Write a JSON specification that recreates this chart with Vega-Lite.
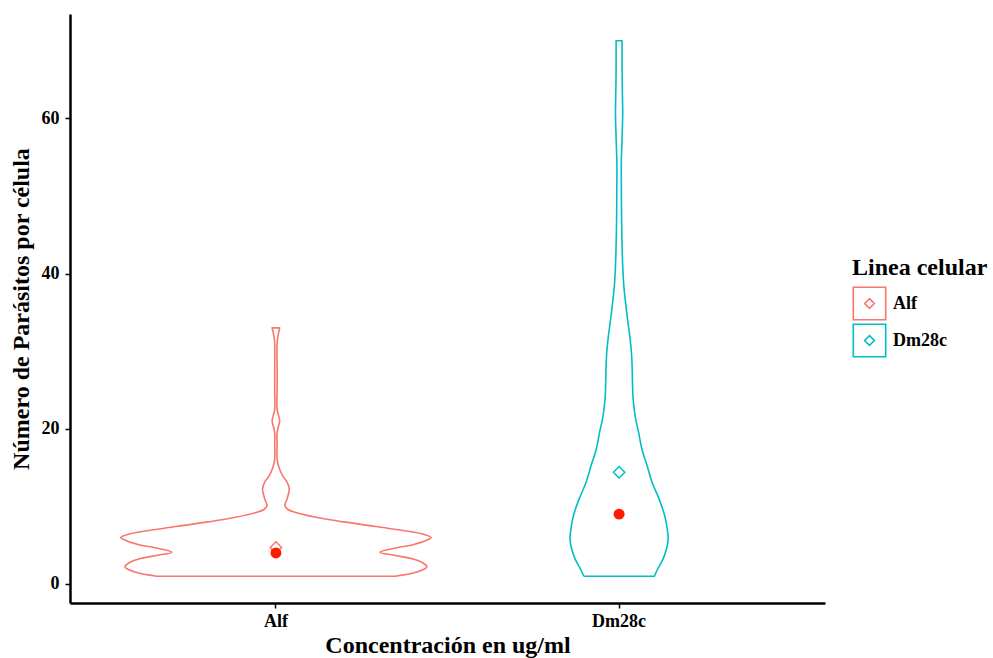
{
  "$schema": "https://vega.github.io/schema/vega-lite/v6.json",
  "autosize": "none",
  "width": 755,
  "height": 589,
  "padding": {"left": 70, "top": 14, "right": 168, "bottom": 55},
  "background": "white",
  "datasets": {
    "violin": [
      {"g":"Alf","o":1,"y":1,"w":-0.347},{"g":"Alf","o":2,"y":1.5,"w":-0.408},{"g":"Alf","o":3,"y":2.2,"w":-0.44},{"g":"Alf","o":4,"y":2.8,"w":-0.425},{"g":"Alf","o":5,"y":3.2,"w":-0.402},{"g":"Alf","o":6,"y":3.7,"w":-0.344},{"g":"Alf","o":7,"y":4.1,"w":-0.303},{"g":"Alf","o":8,"y":4.6,"w":-0.344},{"g":"Alf","o":9,"y":5.1,"w":-0.402},{"g":"Alf","o":10,"y":5.6,"w":-0.437},{"g":"Alf","o":11,"y":6.0,"w":-0.452},{"g":"Alf","o":12,"y":6.4,"w":-0.431},{"g":"Alf","o":13,"y":6.8,"w":-0.385},{"g":"Alf","o":14,"y":7.4,"w":-0.291},{"g":"Alf","o":15,"y":8.0,"w":-0.198},{"g":"Alf","o":16,"y":8.6,"w":-0.117},{"g":"Alf","o":17,"y":9.25,"w":-0.055},{"g":"Alf","o":18,"y":9.6,"w":-0.035},{"g":"Alf","o":19,"y":10.1,"w":-0.026},{"g":"Alf","o":20,"y":10.9,"w":-0.032},{"g":"Alf","o":21,"y":12.2,"w":-0.039},{"g":"Alf","o":22,"y":13.2,"w":-0.032},{"g":"Alf","o":23,"y":13.9,"w":-0.02},{"g":"Alf","o":24,"y":15,"w":-0.009},{"g":"Alf","o":25,"y":16.1,"w":-0.0035},{"g":"Alf","o":26,"y":18,"w":-0.0035},{"g":"Alf","o":27,"y":19.5,"w":-0.0035},{"g":"Alf","o":28,"y":20.3,"w":-0.0073},{"g":"Alf","o":29,"y":21,"w":-0.011},{"g":"Alf","o":30,"y":21.8,"w":-0.0073},{"g":"Alf","o":31,"y":22.5,"w":-0.0035},{"g":"Alf","o":32,"y":25,"w":-0.0035},{"g":"Alf","o":33,"y":28,"w":-0.0035},{"g":"Alf","o":34,"y":31,"w":-0.0035},{"g":"Alf","o":35,"y":31.9,"w":-0.0058},{"g":"Alf","o":36,"y":33,"w":-0.011},{"g":"Alf","o":36.5,"y":33,"w":-0.011},
      {"g":"Alf","o":37,"y":33,"w":0.011},{"g":"Alf","o":37.5,"y":33,"w":0.011},{"g":"Alf","o":38,"y":31.9,"w":0.0058},{"g":"Alf","o":39,"y":31,"w":0.0035},{"g":"Alf","o":40,"y":28,"w":0.0035},{"g":"Alf","o":41,"y":25,"w":0.0035},{"g":"Alf","o":42,"y":22.5,"w":0.0035},{"g":"Alf","o":43,"y":21.8,"w":0.0073},{"g":"Alf","o":44,"y":21,"w":0.011},{"g":"Alf","o":45,"y":20.3,"w":0.0073},{"g":"Alf","o":46,"y":19.5,"w":0.0035},{"g":"Alf","o":47,"y":18,"w":0.0035},{"g":"Alf","o":48,"y":16.1,"w":0.0035},{"g":"Alf","o":49,"y":15,"w":0.009},{"g":"Alf","o":50,"y":13.9,"w":0.02},{"g":"Alf","o":51,"y":13.2,"w":0.032},{"g":"Alf","o":52,"y":12.2,"w":0.039},{"g":"Alf","o":53,"y":10.9,"w":0.032},{"g":"Alf","o":54,"y":10.1,"w":0.026},{"g":"Alf","o":55,"y":9.6,"w":0.035},{"g":"Alf","o":56,"y":9.25,"w":0.055},{"g":"Alf","o":57,"y":8.6,"w":0.117},{"g":"Alf","o":58,"y":8.0,"w":0.198},{"g":"Alf","o":59,"y":7.4,"w":0.291},{"g":"Alf","o":60,"y":6.8,"w":0.385},{"g":"Alf","o":61,"y":6.4,"w":0.431},{"g":"Alf","o":62,"y":6.0,"w":0.452},{"g":"Alf","o":63,"y":5.6,"w":0.437},{"g":"Alf","o":64,"y":5.1,"w":0.402},{"g":"Alf","o":65,"y":4.6,"w":0.344},{"g":"Alf","o":66,"y":4.1,"w":0.303},{"g":"Alf","o":67,"y":3.7,"w":0.344},{"g":"Alf","o":68,"y":3.2,"w":0.402},{"g":"Alf","o":69,"y":2.8,"w":0.425},{"g":"Alf","o":70,"y":2.2,"w":0.44},{"g":"Alf","o":71,"y":1.5,"w":0.408},{"g":"Alf","o":72,"y":1,"w":0.347},{"g":"Alf","o":72.5,"y":1,"w":0.347},{"g":"Alf","o":73,"y":1,"w":-0.347},
      {"g":"Dm28c","o":1,"y":1,"w":-0.103},{"g":"Dm28c","o":2,"y":1.9,"w":-0.112},{"g":"Dm28c","o":3,"y":3.2,"w":-0.128},{"g":"Dm28c","o":4,"y":4.5,"w":-0.138},{"g":"Dm28c","o":5,"y":5.8,"w":-0.143},{"g":"Dm28c","o":6,"y":7.2,"w":-0.14},{"g":"Dm28c","o":7,"y":8.8,"w":-0.133},{"g":"Dm28c","o":8,"y":10.9,"w":-0.117},{"g":"Dm28c","o":9,"y":13.1,"w":-0.096},{"g":"Dm28c","o":10,"y":15.2,"w":-0.082},{"g":"Dm28c","o":11,"y":17.3,"w":-0.067},{"g":"Dm28c","o":12,"y":19.5,"w":-0.057},{"g":"Dm28c","o":13,"y":21.6,"w":-0.047},{"g":"Dm28c","o":14,"y":23.8,"w":-0.041},{"g":"Dm28c","o":15,"y":26,"w":-0.039},{"g":"Dm28c","o":16,"y":28,"w":-0.038},{"g":"Dm28c","o":17,"y":29.8,"w":-0.036},{"g":"Dm28c","o":18,"y":32,"w":-0.031},{"g":"Dm28c","o":19,"y":34,"w":-0.025},{"g":"Dm28c","o":20,"y":36.2,"w":-0.019},{"g":"Dm28c","o":21,"y":38.3,"w":-0.014},{"g":"Dm28c","o":22,"y":40.5,"w":-0.011},{"g":"Dm28c","o":23,"y":42.6,"w":-0.0093},{"g":"Dm28c","o":24,"y":46.9,"w":-0.0073},{"g":"Dm28c","o":25,"y":50.5,"w":-0.0067},{"g":"Dm28c","o":26,"y":54.2,"w":-0.0064},{"g":"Dm28c","o":27,"y":57.5,"w":-0.0087},{"g":"Dm28c","o":28,"y":60.6,"w":-0.0105},{"g":"Dm28c","o":29,"y":64,"w":-0.0093},{"g":"Dm28c","o":30,"y":67,"w":-0.0087},{"g":"Dm28c","o":31,"y":70,"w":-0.0087},{"g":"Dm28c","o":31.5,"y":70,"w":-0.0087},
      {"g":"Dm28c","o":32,"y":70,"w":0.0087},{"g":"Dm28c","o":32.5,"y":70,"w":0.0087},{"g":"Dm28c","o":33,"y":67,"w":0.0087},{"g":"Dm28c","o":34,"y":64,"w":0.0093},{"g":"Dm28c","o":35,"y":60.6,"w":0.0105},{"g":"Dm28c","o":36,"y":57.5,"w":0.0087},{"g":"Dm28c","o":37,"y":54.2,"w":0.0064},{"g":"Dm28c","o":38,"y":50.5,"w":0.0067},{"g":"Dm28c","o":39,"y":46.9,"w":0.0073},{"g":"Dm28c","o":40,"y":42.6,"w":0.0093},{"g":"Dm28c","o":41,"y":40.5,"w":0.011},{"g":"Dm28c","o":42,"y":38.3,"w":0.014},{"g":"Dm28c","o":43,"y":36.2,"w":0.019},{"g":"Dm28c","o":44,"y":34,"w":0.025},{"g":"Dm28c","o":45,"y":32,"w":0.031},{"g":"Dm28c","o":46,"y":29.8,"w":0.036},{"g":"Dm28c","o":47,"y":28,"w":0.038},{"g":"Dm28c","o":48,"y":26,"w":0.039},{"g":"Dm28c","o":49,"y":23.8,"w":0.041},{"g":"Dm28c","o":50,"y":21.6,"w":0.047},{"g":"Dm28c","o":51,"y":19.5,"w":0.057},{"g":"Dm28c","o":52,"y":17.3,"w":0.067},{"g":"Dm28c","o":53,"y":15.2,"w":0.082},{"g":"Dm28c","o":54,"y":13.1,"w":0.096},{"g":"Dm28c","o":55,"y":10.9,"w":0.117},{"g":"Dm28c","o":56,"y":8.8,"w":0.133},{"g":"Dm28c","o":57,"y":7.2,"w":0.14},{"g":"Dm28c","o":58,"y":5.8,"w":0.143},{"g":"Dm28c","o":59,"y":4.5,"w":0.138},{"g":"Dm28c","o":60,"y":3.2,"w":0.128},{"g":"Dm28c","o":61,"y":1.9,"w":0.112},{"g":"Dm28c","o":62,"y":1,"w":0.103},{"g":"Dm28c","o":62.5,"y":1,"w":0.103},{"g":"Dm28c","o":63,"y":1,"w":-0.103}
    ],
    "stats": [
      {"g":"Alf","mean":4.7,"median":4},
      {"g":"Dm28c","mean":14.4,"median":9}
    ]
  },
  "layer": [
    {
      "data": {"name": "violin"},
      "mark": {"type": "line", "strokeWidth": 1.6, "strokeJoin": "round", "interpolate": "catmull-rom"},
      "encoding": {
        "x": {"field": "g", "type": "nominal", "title": "Concentración en ug/ml",
              "scale": {"domain": ["Alf", "Dm28c"], "paddingInner": 0, "paddingOuter": 0.1}},
        "xOffset": {"field": "w", "type": "quantitative", "scale": {"domain": [-0.5, 0.5]}},
        "y": {"field": "y", "type": "quantitative", "title": "Número de Parásitos por célula",
              "scale": {"domain": [-2.45, 73.45], "nice": false, "zero": false},
              "axis": {"values": [0, 20, 40, 60]}},
        "color": {"field": "g", "type": "nominal", "title": "Linea celular"},
        "order": {"field": "o", "type": "quantitative"}
      }
    },
    {
      "data": {"name": "stats"},
      "mark": {"type": "point", "shape": "diamond", "filled": false, "size": 130, "strokeWidth": 1.5, "opacity": 1},
      "encoding": {
        "x": {"field": "g", "type": "nominal", "title": "Concentración en ug/ml"},
        "y": {"field": "mean", "type": "quantitative", "title": "Número de Parásitos por célula"},
        "color": {"field": "g", "type": "nominal", "title": "Linea celular"}
      }
    },
    {
      "data": {"name": "stats"},
      "mark": {"type": "point", "shape": "circle", "filled": true, "size": 120, "color": "#FF1A00", "opacity": 1},
      "encoding": {
        "x": {"field": "g", "type": "nominal", "title": "Concentración en ug/ml"},
        "y": {"field": "median", "type": "quantitative", "title": "Número de Parásitos por célula"}
      }
    }
  ],
  "config": {
    "view": {"stroke": null},
    "font": "Liberation Serif",
    "range": {"category": ["#F8766D", "#00BFC4"]},
    "axis": {
      "grid": false,
      "domainColor": "black",
      "domainWidth": 2.5,
      "tickColor": "black",
      "tickWidth": 1.5,
      "tickSize": 5,
      "labelFont": "Liberation Serif",
      "labelFontWeight": "bold",
      "labelFontSize": 18,
      "labelColor": "black",
      "titleFont": "Liberation Serif",
      "titleFontWeight": "bold",
      "titleFontSize": 24,
      "titleColor": "black"
    },
    "axisX": {"labelAngle": 0, "labelPadding": 4, "titlePadding": 3},
    "axisY": {"labelPadding": 6, "titlePadding": 8},
    "legend": {
      "orient": "none",
      "legendX": 782,
      "legendY": 242,
      "titleFont": "Liberation Serif",
      "titleFontWeight": "bold",
      "titleFontSize": 24,
      "titleColor": "black",
      "titlePadding": 6,
      "labelFont": "Liberation Serif",
      "labelFontWeight": "bold",
      "labelFontSize": 18,
      "labelColor": "black",
      "labelOffset": 6,
      "symbolType": "M-1,-1H1V1H-1Z M0,-0.3L0.3,0L0,0.3L-0.3,0Z",
      "symbolSize": 1050,
      "symbolStrokeWidth": 1.6,
      "symbolFillColor": "transparent",
      "rowPadding": -4
    }
  }
}
